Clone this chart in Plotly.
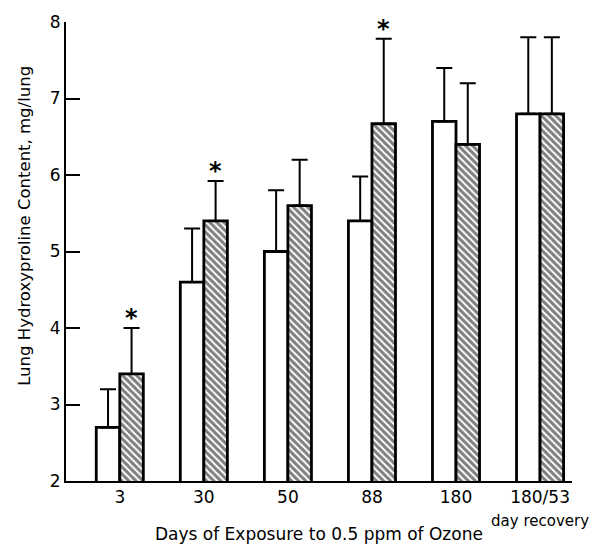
import plotly.graph_objects as go

categories = ["3", "30", "50", "88", "180", "180/53"]
tick_labels = ["3", "30", "50", "88", "180", "180/53<br><span style='font-size:15px'>day recovery</span>"]
control_values = [2.7, 4.6, 5.0, 5.4, 6.7, 6.8]
control_err = [0.5, 0.7, 0.8, 0.58, 0.7, 1.0]
ozone_values = [3.4, 5.4, 5.6, 6.67, 6.4, 6.8]
ozone_err = [0.6, 0.52, 0.6, 1.11, 0.8, 1.0]
significant = [True, True, False, True, False, False]

FONT = "DejaVu Sans"
x_idx = list(range(len(categories)))

fig = go.Figure()
fig.add_trace(go.Bar(
    x=x_idx, y=control_values,
    marker=dict(color="white", line=dict(color="black", width=2.8)),
    error_y=dict(type="data", array=control_err, arrayminus=[0]*6, symmetric=False,
                 color="black", thickness=2, width=8),
    name="Control", showlegend=False,
))
fig.add_trace(go.Bar(
    x=x_idx, y=ozone_values,
    marker=dict(color="white", line=dict(color="black", width=2.8),
                pattern=dict(shape="\\", fgcolor="black", bgcolor="white", size=5, solidity=0.6)),
    error_y=dict(type="data", array=ozone_err, arrayminus=[0]*6, symmetric=False,
                 color="black", thickness=2, width=8),
    name="Ozone", showlegend=False,
))

bar_w = 0.28
for i, sig in enumerate(significant):
    if sig:
        fig.add_annotation(x=i + bar_w / 2, y=ozone_values[i] + ozone_err[i], text="<b>*</b>",
                           showarrow=False, yanchor="bottom", yshift=-6,
                           font=dict(family=FONT, size=24, color="black"))

fig.add_annotation(xref="paper", yref="paper", x=0, y=0.556, xshift=-41,
                   xanchor="center", yanchor="middle",
                   text="Lung Hydroxyproline Content, mg/lung", textangle=-90, showarrow=False,
                   font=dict(family=FONT, size=16.5, color="black"))
fig.add_annotation(xref="paper", yref="paper", x=0.5, y=0, yshift=-53,
                   xanchor="center", yanchor="middle",
                   text="Days of Exposure to 0.5 ppm of Ozone", showarrow=False,
                   font=dict(family=FONT, size=17, color="black"))

# page body has an 8px default margin, so the figure is sized to fit the 598x546 window
fig.update_layout(
    width=590, height=538,
    margin=dict(l=58, r=26, t=14, b=65),
    plot_bgcolor="white", paper_bgcolor="white",
    barmode="group", bargap=0.44, bargroupgap=0,
    font=dict(family=FONT, size=17, color="black"),
    xaxis=dict(range=[-0.64, 5.38], tickvals=x_idx, ticktext=tick_labels,
               showline=True, linecolor="black", linewidth=2, ticks="",
               showgrid=False, zeroline=False, automargin=False,
               tickfont=dict(size=17)),
    yaxis=dict(range=[2, 8], tickvals=[2, 3, 4, 5, 6, 7, 8],
               showline=True, linecolor="black", linewidth=2,
               ticks="inside", ticklen=14, tickwidth=2, tickcolor="black",
               showgrid=False, zeroline=False, automargin=False,
               tickfont=dict(size=17)),
)

fig.write_html("out.html")
